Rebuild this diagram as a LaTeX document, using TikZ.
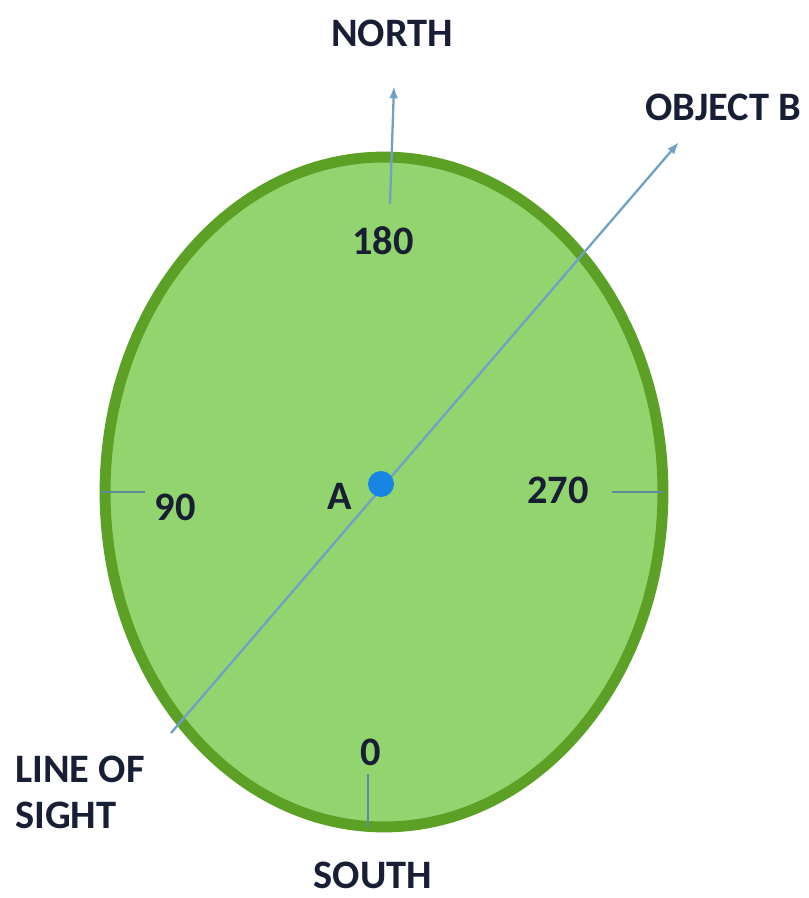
\documentclass[tikz,border=0pt]{standalone}
\usepackage{fontspec}
\setmainfont{Carlito}
\usetikzlibrary{arrows.meta,calc,positioning}
\definecolor{DiskGreen}{RGB}{146,213,110}
\definecolor{RimGreen}{RGB}{92,160,38}
\definecolor{SightBlue}{RGB}{112,160,196}
\definecolor{TickBlue}{RGB}{92,140,160}
\definecolor{DotBlue}{RGB}{24,132,228}
\definecolor{InkNavy}{RGB}{24,30,52}

\begin{document}
\begin{tikzpicture}[x=0.02cm,y=-0.02cm,>={Latex[length=7pt,width=5pt]},
    lbl/.style={font=\fontsize{23}{26}\selectfont\bfseries,text=InkNavy,inner sep=0pt},
    tick/.style={TickBlue,line width=1.3pt}]
      \useasboundingbox (0,0) rectangle (808,898);
      % disc
      \coordinate (C) at (384,492);
      \filldraw[fill=DiskGreen,draw=RimGreen,line width=6.2pt] (C) ellipse [x radius=5.58cm,y radius=6.7cm];
      % marks on the rim
      \coordinate (W) at (102,492);
      \coordinate (Wi) at (145,492);
      \coordinate (E) at (664,492);
      \coordinate (Ei) at (612,492);
      \coordinate (S) at (368,826);
      \coordinate (Si) at (368,774);
      \draw[tick] (W) -- (Wi);
      \draw[tick] (Ei) -- (E);
      \draw[tick] (Si) -- (S);
      % north arrow
      \coordinate (Nfoot) at (390,204);
      \coordinate (Ntip) at (394,86);
      \draw[->,SightBlue,line width=1.3pt] (Nfoot) -- (Ntip);
      % line of sight
      \coordinate (A) at (381,484);
      \coordinate (sightEnd) at (171,733);
      \coordinate (objB) at (679,142);
      \draw[->,SightBlue,line width=1.3pt] (sightEnd) -- (objB);
      \fill[DotBlue] (A) circle (0.26cm);
      % labels
      \node[lbl] (north) at (392,33) {NORTH};
      \node[lbl] (object) at (723,107) {OBJECT B};
      \node[lbl] (south) at (373,875) {SOUTH};
      \node[lbl,align=left,anchor=north west] (sight) at (15,756) {LINE OF\\SIGHT};
      \node[lbl] (d180) at (383,241) {180};
      \node[lbl] (d0) at (371,752) {0};
      \node[lbl] (d90) at (175,507) {90};
      \node[lbl] (d270) at (558,490) {270};
      \node[lbl] (labA) at (340,496) {A};
\end{tikzpicture}
\end{document}
